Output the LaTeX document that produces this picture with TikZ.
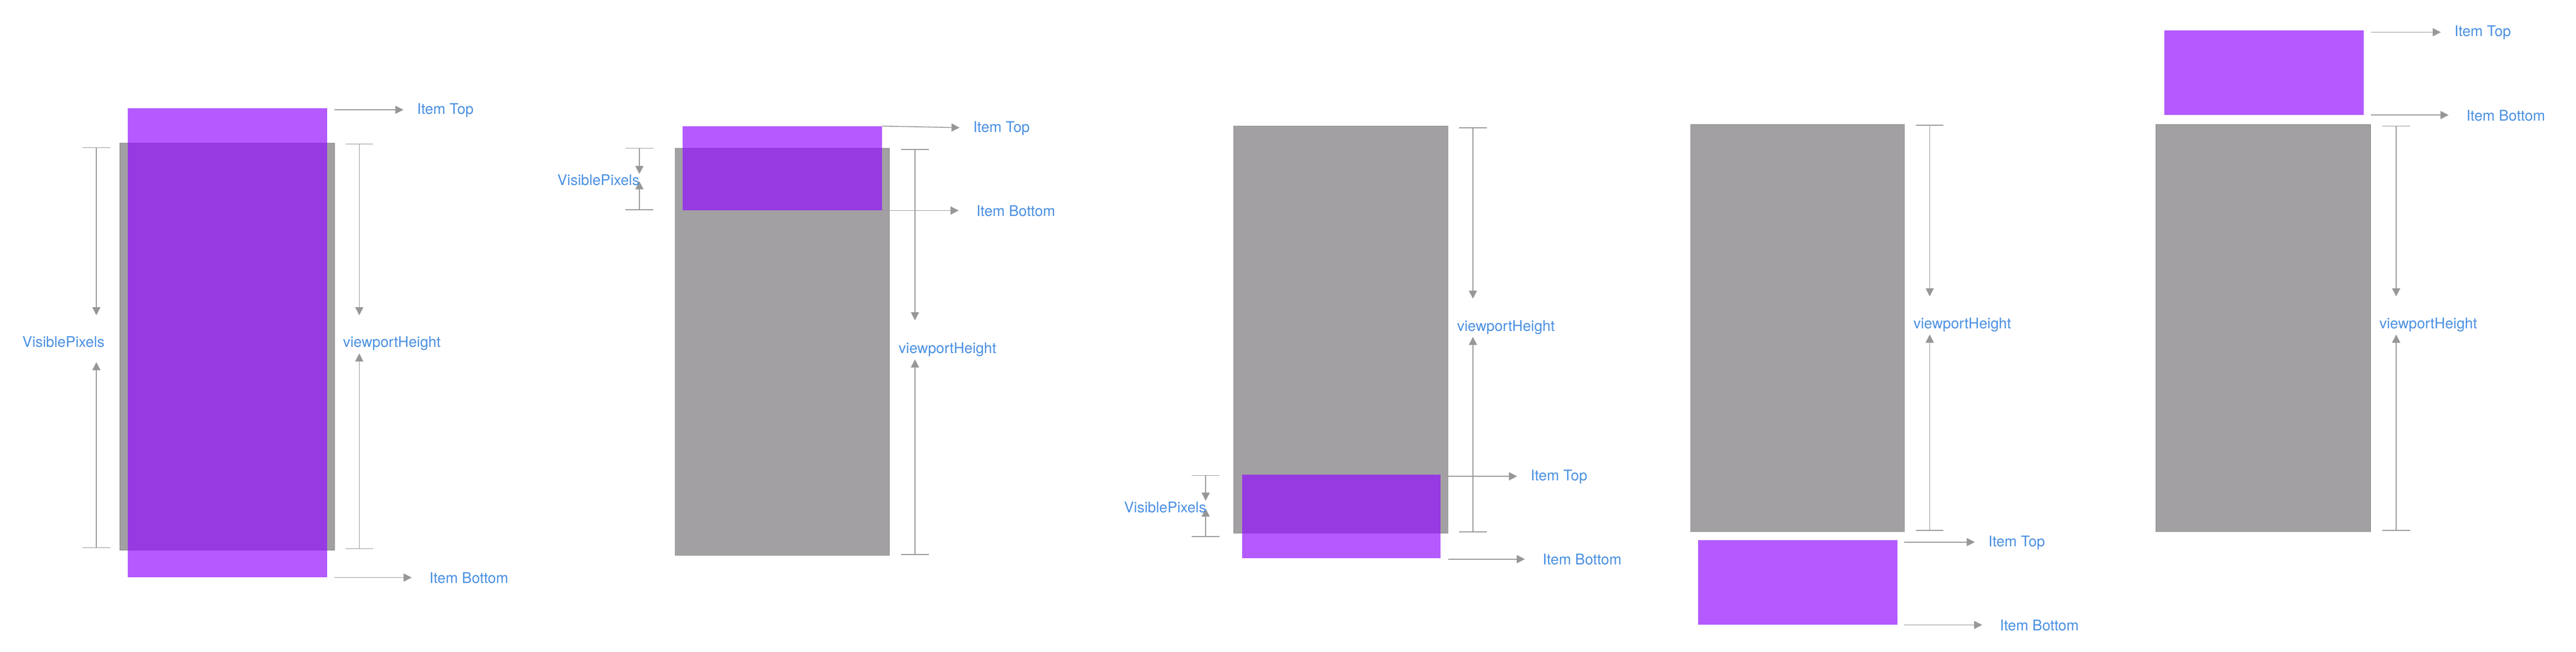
\documentclass[tikz,border=0pt]{standalone}
\usepackage{fontspec}
\setmainfont{TeX Gyre Heros}
\usepackage{tikz}
\usetikzlibrary{arrows.meta}
\definecolor{vpgrey}{RGB}{162,160,163}
\definecolor{vpedge}{RGB}{151,151,151}
\definecolor{linegrey}{RGB}{151,151,151}
\definecolor{itempurple}{RGB}{145,12,255}
\definecolor{tagblue}{RGB}{74,144,226}
\tikzset{
  viewport/.style={fill=vpgrey, draw=vpedge, line width=0.4pt},
  item/.style={fill=itempurple, fill opacity=0.68},
  bar/.style={draw=linegrey, line width=0.5pt},
  pointer/.style={bar, -{Triangle[length=5pt,width=5pt]}},
  tag/.style={font=\fontsize{9.1}{11}\selectfont, text=tagblue, inner sep=0pt, anchor=mid west},
  toptag/.style={pointer, shorten >=0.29cm},
  bottag/.style={pointer, shorten >=0.38cm}
}
% x, top, bottom, tip of the down arrow, tip of the up arrow
\newcommand{\gaugebar}[5]{
  \draw[bar] (#1-0.3,#2) -- (#1+0.3,#2);
  \draw[bar] (#1-0.3,#3) -- (#1+0.3,#3);
  \draw[pointer] (#1,#2) -- (#1,#4);
  \draw[pointer] (#1,#3) -- (#1,#5);
}

\begin{document}
\begin{tikzpicture}
			\useasboundingbox (0,0) rectangle (56,14.16);
			
			%%%%% item taller than viewport %%%%%
			
			\draw[viewport] (2.61,11.05) rectangle (7.27,2.21);
			\fill[item] (2.78,11.81) rectangle (7.11,1.62);
			
			\gaugebar{2.095}{10.95}{2.26}{7.31}{6.29}
			\node[tag] (vp1) at (0.48,6.71) {VisiblePixels};
			\gaugebar{7.81}{11.03}{2.24}{7.31}{6.48}
			\node[tag] (vh1) at (7.45,6.71) {viewportHeight};
			
			\coordinate (t1) at (7.27,11.774);
			\coordinate (b1) at (7.27,1.61);
			\node[tag] (top1) at (9.06,11.774) {Item Top};
			\node[tag] (bot1) at (9.33,1.58) {Item Bottom};
			\draw[toptag] (t1) -- (t1 -| top1.west);
			\draw[bottag] (b1) -- (b1 -| bot1.west);
			
			%%%%% item at the top edge %%%%%
			
			\draw[viewport] (14.68,10.94) rectangle (19.34,2.09);
			\fill[item] (14.84,11.42) rectangle (19.17,9.59);
			
			\gaugebar{13.90}{10.94}{9.60}{10.38}{10.22}
			\node[tag] (vp2) at (12.11,10.23) {VisiblePixels};
			\gaugebar{19.89}{10.91}{2.11}{7.20}{6.35}
			\node[tag] (vh2) at (19.53,6.58) {viewportHeight};
			
			\coordinate (t2) at (19.17,11.42);
			\coordinate (b2) at (19.17,9.585);
			\node[tag] (top2) at (21.15,11.38) {Item Top};
			\node[tag] (bot2) at (21.22,9.55) {Item Bottom};
			\draw[toptag] (t2) -- (top2.mid west);
			\draw[bottag] (b2) -- (b2 -| bot2.west);
			
			%%%%% item at the bottom edge %%%%%
			
			\draw[viewport] (26.82,11.42) rectangle (31.48,2.57);
			\fill[item] (27.00,3.85) rectangle (31.32,2.03);
			
			\gaugebar{26.21}{3.83}{2.50}{3.28}{3.11}
			\node[tag] (vp3) at (24.43,3.11) {VisiblePixels};
			\gaugebar{32.02}{11.38}{2.60}{7.67}{6.84}
			\node[tag] (vh3) at (31.67,7.06) {viewportHeight};
			
			\coordinate (t3) at (31.48,3.81);
			\coordinate (b3) at (31.48,2.01);
			\node[tag] (top3) at (33.27,3.81) {Item Top};
			\node[tag] (bot3) at (33.53,1.98) {Item Bottom};
			\draw[toptag] (t3) -- (t3 -| top3.west);
			\draw[bottag] (b3) -- (b3 -| bot3.west);
			
			%%%%% item below the viewport %%%%%
			
			\draw[viewport] (36.75,11.45) rectangle (41.40,2.61);
			\fill[item] (36.92,2.42) rectangle (41.25,0.59);
			
			\gaugebar{41.95}{11.44}{2.635}{7.72}{6.89}
			\node[tag] (vh4) at (41.59,7.11) {viewportHeight};
			
			\coordinate (t4) at (41.40,2.38);
			\coordinate (b4) at (41.40,0.58);
			\node[tag] (top4) at (43.22,2.38) {Item Top};
			\node[tag] (bot4) at (43.47,0.55) {Item Bottom};
			\draw[toptag] (t4) -- (t4 -| top4.west);
			\draw[bottag] (b4) -- (b4 -| bot4.west);
			
			%%%%% item above the viewport %%%%%
			
			\draw[viewport] (46.87,11.45) rectangle (51.53,2.61);
			\fill[item] (47.045,13.50) rectangle (51.39,11.66);
			
			\gaugebar{52.09}{11.42}{2.635}{7.72}{6.89}
			\node[tag] (vh5) at (51.72,7.11) {viewportHeight};
			
			\coordinate (t5) at (51.54,13.46);
			\coordinate (b5) at (51.54,11.66);
			\node[tag] (top5) at (53.35,13.46) {Item Top};
			\node[tag] (bot5) at (53.61,11.63) {Item Bottom};
			\draw[toptag] (t5) -- (t5 -| top5.west);
			\draw[bottag] (b5) -- (b5 -| bot5.west);
			
\end{tikzpicture}
\end{document}
